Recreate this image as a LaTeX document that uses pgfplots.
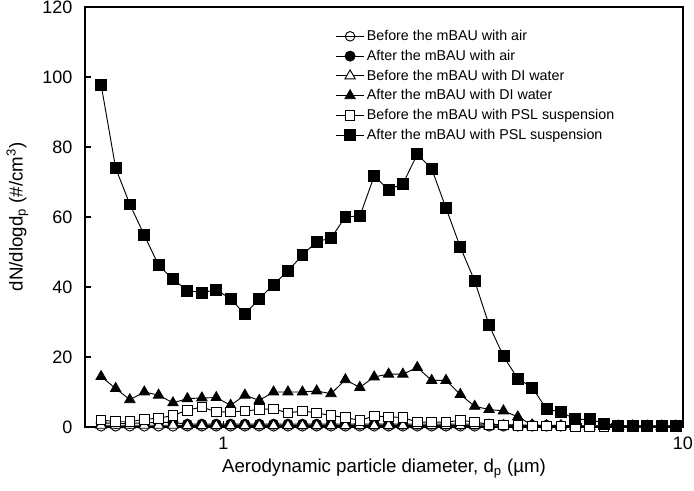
\documentclass[border=0pt]{standalone}
\usepackage{pgfplots}
\pgfplotsset{compat=1.18}
\usepackage{fontspec}
\setmainfont{Liberation Sans}

% APS size distributions, dN/dlogdp vs aerodynamic diameter
\pgfplotstableread{
dp     bair  aair  bdi  adi   bpsl  apsl
0.542  0.2   1.2   0.5  14.4  2.0   97.8
0.583  0.2   1.0   0.5  11.0  1.5   74.0
0.626  0.2   1.0   0.5  7.8   1.5   63.6
0.673  0.2   1.2   0.5  10.0  2.2   54.8
0.723  0.2   1.3   0.5  9.1   2.5   46.2
0.777  0.2   1.3   0.5  6.9   3.3   42.2
0.835  0.2   0.8   0.4  8.1   4.8   39.0
0.898  0.2   0.8   0.4  8.3   5.7   38.4
0.965  0.2   0.8   0.4  8.4   4.3   39.2
1.037  0.2   0.8   0.4  6.2   4.3   36.6
1.114  0.2   0.8   0.4  9.1   4.6   32.2
1.197  0.2   0.8   0.4  7.6   5.0   36.7
1.286  0.2   0.8   0.4  10.0  5.2   40.7
1.382  0.2   0.8   0.4  10.0  4.0   44.6
1.486  0.2   0.8   0.4  10.0  4.6   49.1
1.596  0.2   0.8   0.4  10.3  4.0   53.0
1.715  0.2   0.8   0.4  9.5   3.3   53.9
1.843  0.2   0.8   0.4  13.5  2.7   60.1
1.981  0.2   0.8   0.4  11.3  1.9   60.2
2.129  0.2   0.8   0.4  14.3  3.1   71.7
2.288  0.2   0.8   0.4  15.1  2.9   67.8
2.458  0.2   0.8   0.4  15.1  2.7   69.5
2.642  0.2   0.8   0.4  17.0  1.4   77.9
2.839  0.2   0.8   0.4  13.3  1.4   73.8
3.051  0.2   0.8   0.4  13.3  1.4   62.5
3.278  0.2   0.8   0.4  9.3   1.9   51.4
3.523  0.2   0.8   0.4  5.9   1.4   41.7
3.786  0.2   0.8   0.3  5.0   0.8   29.1
4.068  0.2   0.6   0.3  4.6   0.6   20.2
4.371  0.2   0.6   0.3  2.9   0.4   13.8
4.698  0.2   0.5   0.3  0.6   0.3   11.3
5.048  0.2   0.5   0.3  0.4   0.3   5.1
5.425  0.2   0.4   0.3  0.3   0.3   4.3
5.829  0.2   0.4   0.2  0.3   0.2   2.2
6.264  0.2   0.3   0.2  0.2   0.2   2.2
6.732  0.2   0.3   0.2  0.2   0.2   1.0
7.234  0.2   0.3   0.2  0.2   0.2   0.4
7.774  0.2   0.3   0.2  0.2   0.2   0.3
8.354  0.2   0.3   0.2  0.2   0.2   0.2
8.977  0.2   0.3   0.2  0.2   0.2   0.2
9.647  0.2   0.3   0.2  0.2   0.2   0.2
}\apsdata

\begin{document}
\begin{tikzpicture}
\path[use as bounding box] (-63.75pt,-48pt) rectangle (456.75pt,320.25pt);
\begin{axis}[
  at={(0,0)}, anchor=south west,
  scale only axis,
  width=448.5pt, height=315pt,
  xmode=log, xmin=0.5, xmax=10,
  ymin=0, ymax=120,
  xtick={1,10}, xticklabels={1,10},
  minor xtick={},
  ytick={0,20,40,60,80,100,120},
  tick align=inside,
  major tick length=4.5pt,
  xtick pos=bottom, ytick pos=left,
  axis line style={line width=0.9pt},
  tick style={line width=0.8pt, black},
  tick label style={font=\fontsize{13.5}{15}\selectfont},
  /pgf/number format/assume math mode=true,
  xticklabel style={yshift=-4pt},
  yticklabel style={xshift=-6pt},
  xlabel={Aerodynamic particle diameter, d\textsubscript{p} (µm)},
  ylabel={dN/dlogd\textsubscript{p} (\#/cm\textsuperscript{3})},
  label style={font=\fontsize{14}{16}\selectfont},
  xlabel style={at={(axis description cs:0.5,-0.1)}, anchor=center},
  ylabel style={at={(axis description cs:-0.113,0.5)}, anchor=center},
  legend style={draw=none, fill=none, at={(axis description cs:0.417,0.955)}, anchor=north west,
    font=\fontsize{10.7}{12}\selectfont, row sep=1.6pt, inner sep=1pt},
  legend cell align=left,
  legend image code/.code={\draw[mark repeat=2,mark phase=2] plot coordinates {(0cm,0cm)(0.36cm,0cm)(0.72cm,0cm)};},
  every axis plot/.append style={black, line width=0.7pt, mark options={solid, line width=0.6pt}},
]
\addplot[mark=o, mark size=3.6pt, mark options={fill=white}] table[x=dp,y=bair] {\apsdata};
\addlegendentry{Before the mBAU with air}
\addplot[mark=*, mark size=3.8pt] table[x=dp,y=aair] {\apsdata};
\addlegendentry{After the mBAU with air}
\addplot[mark=triangle*, mark size=4.5pt, mark options={fill=white}] table[x=dp,y=bdi] {\apsdata};
\addlegendentry{Before the mBAU with DI water}
\addplot[mark=triangle*, mark size=4.5pt] table[x=dp,y=adi] {\apsdata};
\addlegendentry{After the mBAU with DI water}
\addplot[mark=square*, mark size=3.6pt, mark options={fill=white}] table[x=dp,y=bpsl] {\apsdata};
\addlegendentry{Before the mBAU with PSL suspension}
\addplot[mark=square*, mark size=4.1pt] table[x=dp,y=apsl] {\apsdata};
\addlegendentry{After the mBAU with PSL suspension}
\end{axis}
\end{tikzpicture}
\end{document}
